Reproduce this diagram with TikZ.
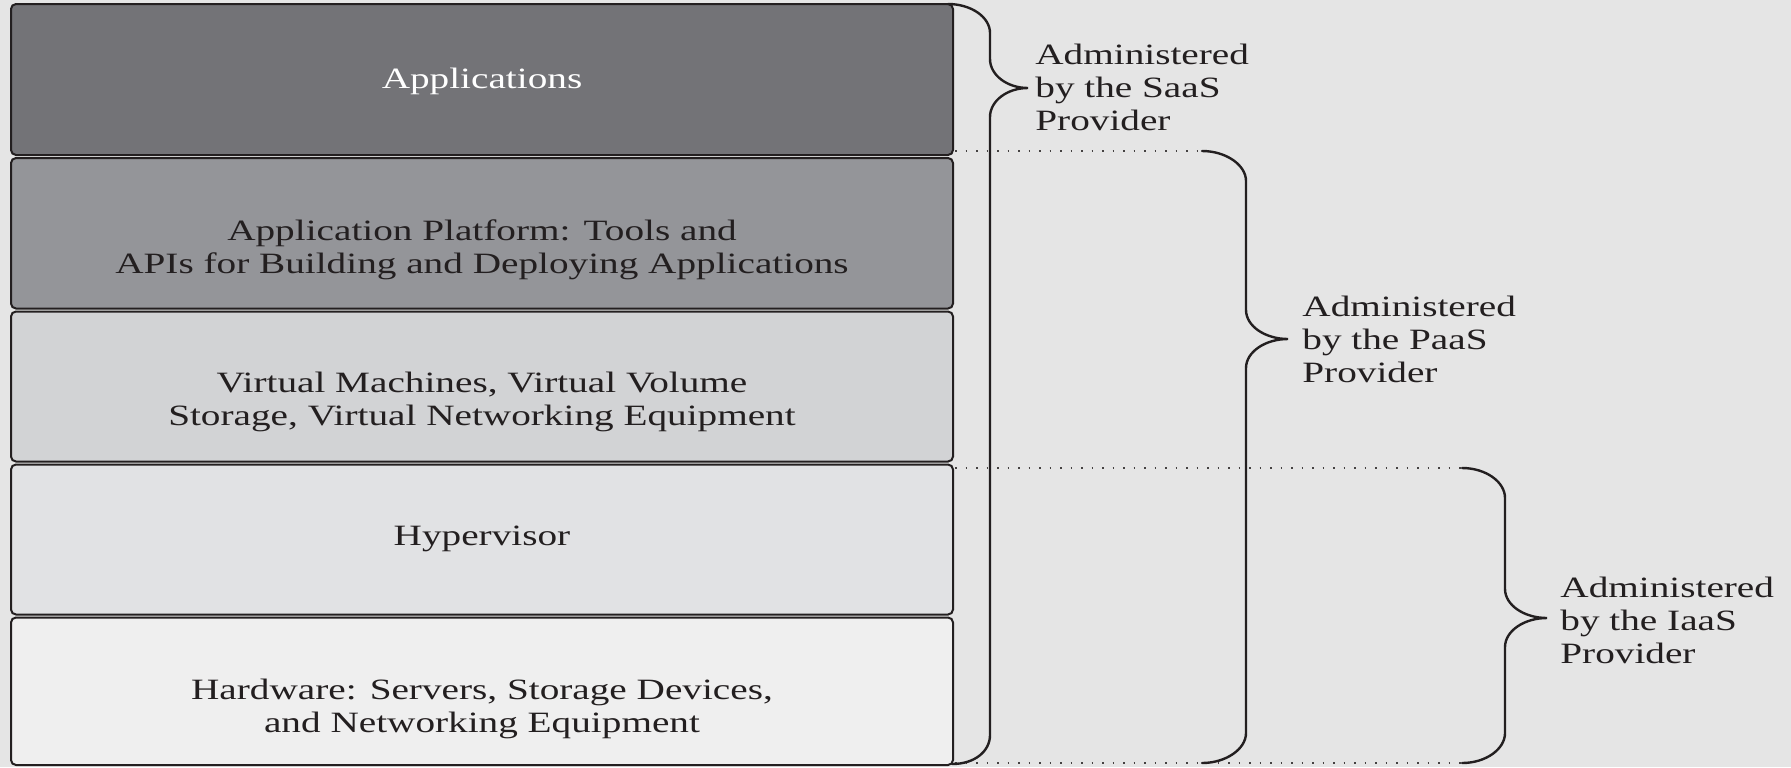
\documentclass[tikz,border=0pt]{standalone}
\usepackage{fontspec}
\setmainfont{Liberation Serif}[FakeStretch=1.33]
\definecolor{paper}{HTML}{E5E5E5}
\definecolor{ink}{HTML}{231F20}
\definecolor{layerA}{HTML}{737377}
\definecolor{layerB}{HTML}{949599}
\definecolor{layerC}{HTML}{D2D3D5}
\definecolor{layerD}{HTML}{E1E2E4}
\definecolor{layerE}{HTML}{EFEFEF}
\begin{document}
\begin{tikzpicture}[
  x=0.5pt, y=-0.5pt,
  layer/.style={draw=ink, line width=1pt, rounded corners=2.5pt,
    rectangle, minimum width=471pt, inner sep=0pt},
  layertext/.style={inner sep=0pt, align=center, text=ink,
    font=\fontsize{14.75pt}{16.55pt}\selectfont},
  sidetext/.style={inner sep=0pt, align=left, text=ink, anchor=west,
    font=\fontsize{14.75pt}{16.55pt}\selectfont},
  brace/.style={draw=ink, line width=1.2pt, line cap=round},
  guide/.style={draw=ink!85, line width=0.7pt, dash pattern=on 0.8pt off 4.45pt}
]
% canvas
\fill[paper] (0,0) rectangle (1791,767);
\useasboundingbox (0,0) rectangle (1791,767);

% the five stacked layers
\node[layer, fill=layerA, minimum height=75.5pt]  (app)  at (482,79.5)   {};
\node[layer, fill=layerB, minimum height=75.25pt] (plat) at (482,233.25) {};
\node[layer, fill=layerC, minimum height=75pt]    (virt) at (482,386.5)  {};
\node[layer, fill=layerD, minimum height=75pt]    (hyp)  at (482,539.5)  {};
\node[layer, fill=layerE, minimum height=73.75pt] (hw)   at (482,691.25) {};

% layer captions
\node[layertext, text=white, anchor=base] (appT) at (482,88) {Applications};
\node[layertext] (platT) at (482,250.2) {Application Platform: Tools and\\APIs for Building and Deploying Applications};
\node[layertext] (virtT) at (482,402.3) {Virtual Machines, Virtual Volume\\Storage, Virtual Networking Equipment};
\node[layertext, anchor=base] (hypT) at (482,545.9) {Hypervisor};
\node[layertext] (hwT) at (482,709) {Hardware: Servers, Storage Devices,\\and Networking Equipment};

% dotted guide lines marking where each span starts and ends
\draw[guide] (955,151) -- (1202,151);
\draw[guide] (955,468) -- (1462,468);
\draw[guide] (955,763) -- (1462,763);

% SaaS span: all layers
\draw[brace] (948,4) .. controls (971,4) and (990,17) .. (990,33)
  -- (990,59) .. controls (990,75) and (1007,88) .. (1028,88)
  .. controls (1007,88) and (990,101) .. (990,117)
  -- (990,735) .. controls (990,751) and (975,764) .. (952,764);
% PaaS span: platform and below
\draw[brace] (1202,151) .. controls (1226,151) and (1246,165) .. (1246,181)
  -- (1246,310) .. controls (1246,326) and (1265,339) .. (1288,339)
  .. controls (1265,339) and (1246,352) .. (1246,368)
  -- (1246,733) .. controls (1246,749) and (1226,763) .. (1202,763);
% IaaS span: hypervisor and hardware
\draw[brace] (1462,468) .. controls (1486,468) and (1505,482) .. (1505,498)
  -- (1505,589) .. controls (1505,605) and (1524,618) .. (1547,618)
  .. controls (1524,618) and (1505,631) .. (1505,647)
  -- (1505,733) .. controls (1505,749) and (1486,763) .. (1462,763);

% span captions
\node[sidetext] (saas) at (1035,87.6)  {Administered\\by the SaaS\\Provider};
\node[sidetext] (paas) at (1302,339.3) {Administered\\by the PaaS\\Provider};
\node[sidetext] (iaas) at (1560,620.3) {Administered\\by the IaaS\\Provider};
\end{tikzpicture}
\end{document}
